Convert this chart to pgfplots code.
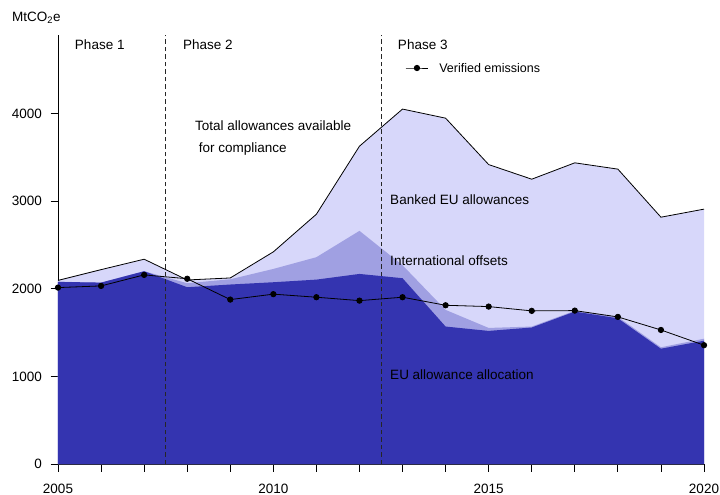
\documentclass[border=0pt]{standalone}
\usepackage{fontspec}
\setmainfont{Liberation Sans}
\usepackage{pgfplots}
\pgfplotsset{compat=1.18}
\definecolor{darkc}{RGB}{52,52,176}
\definecolor{medc}{RGB}{160,160,226}
\definecolor{lightc}{RGB}{215,215,250}
\begin{document}
\begin{tikzpicture}
\begin{axis}[
  name=ax,
  scale only axis,
  width=646pt, height=429pt,
  xmin=2005, xmax=2020, ymin=0, ymax=4900,
  axis x line*=bottom, axis y line*=left,
  axis line style={line width=0.8pt},
  xtick={2005,2010,2015,2020},
  minor xtick={2006,2007,2008,2009,2011,2012,2013,2014,2016,2017,2018,2019},
  ytick={0,1000,2000,3000,4000},
  tick align=outside,
  major tick length=7.5pt, minor tick length=7.5pt,
  tick style={line width=0.8pt, black},
  /pgf/number format/1000 sep={},
  /pgf/number format/assume math mode=true,
  ticklabel style={font=\fontsize{13.5}{15}\selectfont},
  xticklabel style={yshift=-9pt},
  yticklabel style={xshift=-5pt},
  clip=false,
]
\addplot[fill=lightc, draw=none] coordinates {
(2005,2097)(2006,2220)(2007,2339)(2008,2102)(2009,2125)(2010,2423)(2011,2853)(2012,3630)
(2013,4054)(2014,3950)(2015,3420)(2016,3253)(2017,3440)(2018,3368)(2019,2819)(2020,2911)} \closedcycle;
\addplot[fill=medc, draw=none] coordinates {
(2005,2082)(2006,2072)(2007,2202)(2008,2065)(2009,2110)(2010,2228)(2011,2362)(2012,2663)
(2013,2270)(2014,1760)(2015,1554)(2016,1570)(2017,1750)(2018,1680)(2019,1333)(2020,1431)} \closedcycle;
\addplot[fill=darkc, draw=none] coordinates {
(2005,2080)(2006,2072)(2007,2202)(2008,2019)(2009,2050)(2010,2076)(2011,2106)(2012,2171)
(2013,2122)(2014,1570)(2015,1520)(2016,1559)(2017,1741)(2018,1664)(2019,1317)(2020,1408)} \closedcycle;
\addplot[black, line width=0.8pt] coordinates {
(2005,2097)(2006,2220)(2007,2339)(2008,2102)(2009,2125)(2010,2423)(2011,2853)(2012,3630)
(2013,4054)(2014,3950)(2015,3420)(2016,3253)(2017,3440)(2018,3368)(2019,2819)(2020,2911)};
\addplot[black!85, dash pattern=on 4.5pt off 3pt, line width=0.7pt] coordinates {(2007.5,0)(2007.5,4900)};
\addplot[black!85, dash pattern=on 4.5pt off 3pt, line width=0.7pt] coordinates {(2012.5,0)(2012.5,4900)};
\addplot[black, line width=0.8pt, mark=*, mark size=2.7pt] coordinates {
(2005,2015)(2006,2034)(2007,2160)(2008,2116)(2009,1878)(2010,1940)(2011,1905)(2012,1866)
(2013,1905)(2014,1813)(2015,1798)(2016,1749)(2017,1752)(2018,1680)(2019,1531)(2020,1357)};
% legend sample
\addplot[black, line width=0.8pt, mark=*, mark size=2.7pt, mark indices={2}] coordinates {
(2013.07,4523)(2013.335,4523)(2013.60,4523)};
\node[anchor=west, inner sep=0pt, font=\fontsize{12.5}{14}\selectfont] at (axis cs:2013.85,4523) {Verified emissions};
\node[anchor=west, inner sep=0pt, font=\fontsize{13.5}{16}\selectfont] at (axis cs:2003.93,5094) {MtCO\textsubscript{2}e};
\node[anchor=west, inner sep=0pt, font=\fontsize{13.5}{16}\selectfont] at (axis cs:2005.39,4786) {Phase 1};
\node[anchor=west, inner sep=0pt, font=\fontsize{13.5}{16}\selectfont] at (axis cs:2007.90,4786) {Phase 2};
\node[anchor=west, inner sep=0pt, font=\fontsize{13.5}{16}\selectfont] at (axis cs:2012.89,4786) {Phase 3};
\node[anchor=west, inner sep=0pt, align=left, font=\fontsize{13.5}{21.5}\selectfont] at (axis cs:2008.18,3724) {Total allowances available\\\ for compliance};
\node[anchor=west, inner sep=0pt, font=\fontsize{13.5}{16}\selectfont] at (axis cs:2012.71,3015) {Banked EU allowances};
\node[anchor=west, inner sep=0pt, font=\fontsize{13.5}{16}\selectfont] at (axis cs:2012.71,2319) {International offsets};
\node[anchor=west, inner sep=0pt, font=\fontsize{13.5}{16}\selectfont] at (axis cs:2012.71,1017) {EU allowance allocation};
\end{axis}
\pgfresetboundingbox
\path[use as bounding box] ([xshift=-58pt,yshift=-31pt]ax.south west) rectangle ([xshift=16pt,yshift=35pt]ax.north east);
\end{tikzpicture}
\end{document}
